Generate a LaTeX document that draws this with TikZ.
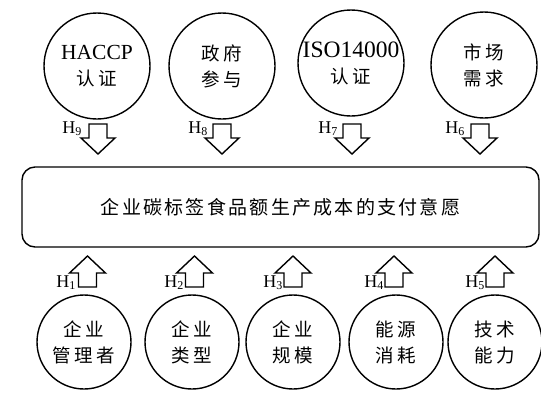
\documentclass[tikz,border=0pt]{standalone}
\usepackage{fontspec}
\setmainfont{Liberation Serif}
\newfontfamily\cjkc[LetterSpace=20]{Noto Sans CJK SC}
\newfontfamily\cjkm[LetterSpace=12]{Noto Sans CJK SC}
\newcommand\hsub[1]{H\raisebox{-2.5pt}{\fontsize{12}{12}\selectfont #1}}
\begin{document}
\begin{tikzpicture}[x=1pt,y=-1pt,line width=1.4pt,
  topc/.style={circle,draw,minimum size=106pt,inner sep=0pt,align=center,
    font=\fontsize{18.5}{26}\selectfont},
  botc/.style={circle,draw,minimum size=94pt,inner sep=0pt,align=center,
    font=\fontsize{18.5}{26}\selectfont},
  mainbox/.style={draw,rounded corners=13pt,minimum width=517pt,minimum height=80pt,
    inner sep=0pt,font=\fontsize{19}{19}\selectfont},
  hlab/.style={inner sep=0pt,anchor=base east,font=\fontsize{18}{18}\selectfont},
  downarr/.pic={\draw[line join=miter] (-9,0) -- (9,0) -- (9,14) -- (17,14) -- (0,30)
     -- (-17,14) -- (-9,14) -- cycle;},
  uparr/.pic={\draw[line join=miter] (-9,0) -- (9,0) -- (9,-14) -- (18,-14) -- (0,-31)
     -- (-18,-14) -- (-9,-14) -- cycle;}
]
\useasboundingbox (0,0) rectangle (541,392);

% top circles
\node[topc] (c9) at (97,66) {{\fontsize{21.5}{26}\selectfont HACCP}\\{\cjkc 认证}};
\node[topc] (c8) at (222,66) {{\cjkc 政府}\\{\cjkc 参与}};
\node[topc] (c7) at (351,63) {{\fontsize{23.5}{26}\selectfont ISO14000}\\{\cjkc 认证}};
\node[topc] (c6) at (484,65) {{\cjkc 市场}\\{\cjkc 需求}};

% main box
\node[mainbox] (wtp) at (280.5,207) {\cjkm 企业碳标签食品额生产成本的支付意愿};

% bottom circles
\node[botc] (c1) at (84,342) {{\cjkc 企业}\\{\cjkc 管理者}};
\node[botc] (c2) at (192,342) {{\cjkc 企业}\\{\cjkc 类型}};
\node[botc] (c3) at (293,342) {{\cjkc 企业}\\{\cjkc 规模}};
\node[botc] (c4) at (396,342) {{\cjkc 能源}\\{\cjkc 消耗}};
\node[botc] (c5) at (495,342) {{\cjkc 技术}\\{\cjkc 能力}};

% down arrows (top)
\coordinate (a9) at (98,124);
\coordinate (a8) at (222,124);
\coordinate (a7) at (352,124);
\coordinate (a6) at (480,124);
\pic at (a9) {downarr};
\pic at (a8) {downarr};
\pic at (a7) {downarr};
\pic at (a6) {downarr};
\node[hlab] (h9) at (82,133) {\hsub{9}};
\node[hlab] (h8) at (208,133) {\hsub{8}};
\node[hlab] (h7) at (338,133) {\hsub{7}};
\node[hlab] (h6) at (465,133) {\hsub{6}};

% up arrows (bottom)
\coordinate (a1) at (87.5,287);
\coordinate (a2) at (194.5,287);
\coordinate (a3) at (293,287);
\coordinate (a4) at (394,287);
\coordinate (a5) at (495,287);
\pic at (a1) {uparr};
\pic at (a2) {uparr};
\pic at (a3) {uparr};
\pic at (a4) {uparr};
\pic at (a5) {uparr};
\node[hlab] (h1) at (76,287) {\hsub{1}};
\node[hlab] (h2) at (184,287) {\hsub{2}};
\node[hlab] (h3) at (283,287) {\hsub{3}};
\node[hlab] (h4) at (384,287) {\hsub{4}};
\node[hlab] (h5) at (485,287) {\hsub{5}};
\end{tikzpicture}
\end{document}
